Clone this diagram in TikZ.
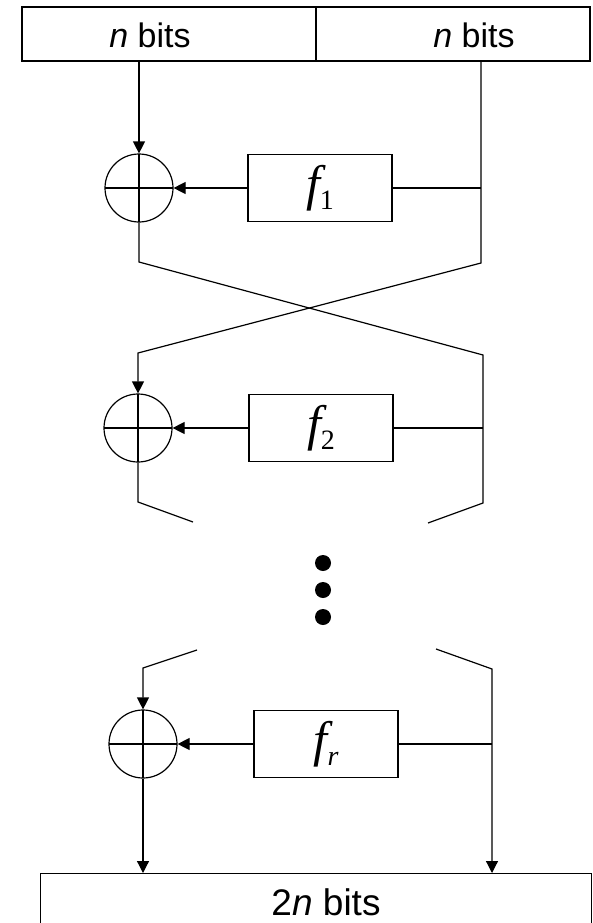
\documentclass[tikz,border=0pt]{standalone}
\usepackage{fontspec}
\setmainfont{Liberation Sans}
\newfontfamily\fnfont{Liberation Serif}
\newcommand{\fname}[1]{{\fnfont\itshape f}\raisebox{-9pt}{\fontsize{28}{30}\selectfont\fnfont #1}}
\usetikzlibrary{arrows.meta}

\begin{document}
\begin{tikzpicture}[x=1pt,y=-1pt,line width=1.2pt,
  every node/.style={inner sep=0pt},
  half/.style={draw,minimum height=54pt},
  bits/.style={font=\fontsize{34}{40}\selectfont},
  fbox/.style={draw,minimum width=144pt,minimum height=67pt,
    font=\fontsize{50}{56}\selectfont},
  xor/.style={draw,circle,minimum size=68pt,
    path picture={\draw (path picture bounding box.west) -- (path picture bounding box.east)
      (path picture bounding box.north) -- (path picture bounding box.south);}},
  dot/.style={circle,fill,minimum size=16pt},
  tip/.style={-{Triangle[length=12pt,width=12pt]}}]
  \useasboundingbox (0,0) rectangle (593,923);

  \node[half,minimum width=294pt] (lhalf) at (169,34) {};
  \node[half,minimum width=274pt] (rhalf) at (453,34) {};
  \node[bits] (ltext) at (150,35) {\textit{n} bits};
  \node[bits] (rtext) at (474,35) {\textit{n} bits};

  \node[xor] (x1) at (139,188) {};
  \node[fbox] (f1) at (320,188) {\fname{1}};
  \node[xor] (x2) at (138,428) {};
  \node[fbox] (f2) at (321,428) {\fname{2}};
  \node[xor] (x3) at (143,744) {};
  \node[fbox] (fr) at (326,744) {\fname{\itshape r}};

  \foreach \y/\n in {563/1,590/2,617/3}
    \node[dot] (dot\n) at (323,\y) {};

  \node[draw,minimum width=551pt,minimum height=60pt,anchor=north west] (out) at (40,873) {};
  \node[bits,font=\fontsize{37}{44}\selectfont] (outtext) at (326,902) {2\textit{n} bits};

  \coordinate (l1) at (139,262);
  \coordinate (r1) at (481,263);
  \coordinate (l2) at (138,353);
  \coordinate (r2) at (483,355);
  \coordinate (d1) at (138,502);
  \coordinate (d2) at (193,522);
  \coordinate (d3) at (483,503);
  \coordinate (d4) at (428,523);
  \coordinate (u1) at (197,650);
  \coordinate (u2) at (143,668);
  \coordinate (u3) at (436,649);
  \coordinate (u4) at (492,669);

  \draw[tip] (lhalf.south -| x1) -- (x1);
  \draw[tip] (rhalf.south -| r1) -- (r1) -- (l2) -- (x2);
  \draw (x1.south) -- (l1) -- (r2) -- (d3) -- (d4);
  \draw (f1.east) -- (f1.east -| r1);
  \draw[tip] (f1) -- (x1);
  \draw (f2.east) -- (f2.east -| r2);
  \draw[tip] (f2) -- (x2);
  \draw (x2.south) -- (d1) -- (d2);

  \draw[tip] (u1) -- (u2) -- (x3);
  \draw[tip] (u3) -- (u4) -- (u4 |- out.north);
  \draw (fr.east) -- (fr.east -| u4);
  \draw[tip] (fr) -- (x3);
  \draw[tip] (x3) -- (x3 |- out.north);
\end{tikzpicture}
\end{document}
